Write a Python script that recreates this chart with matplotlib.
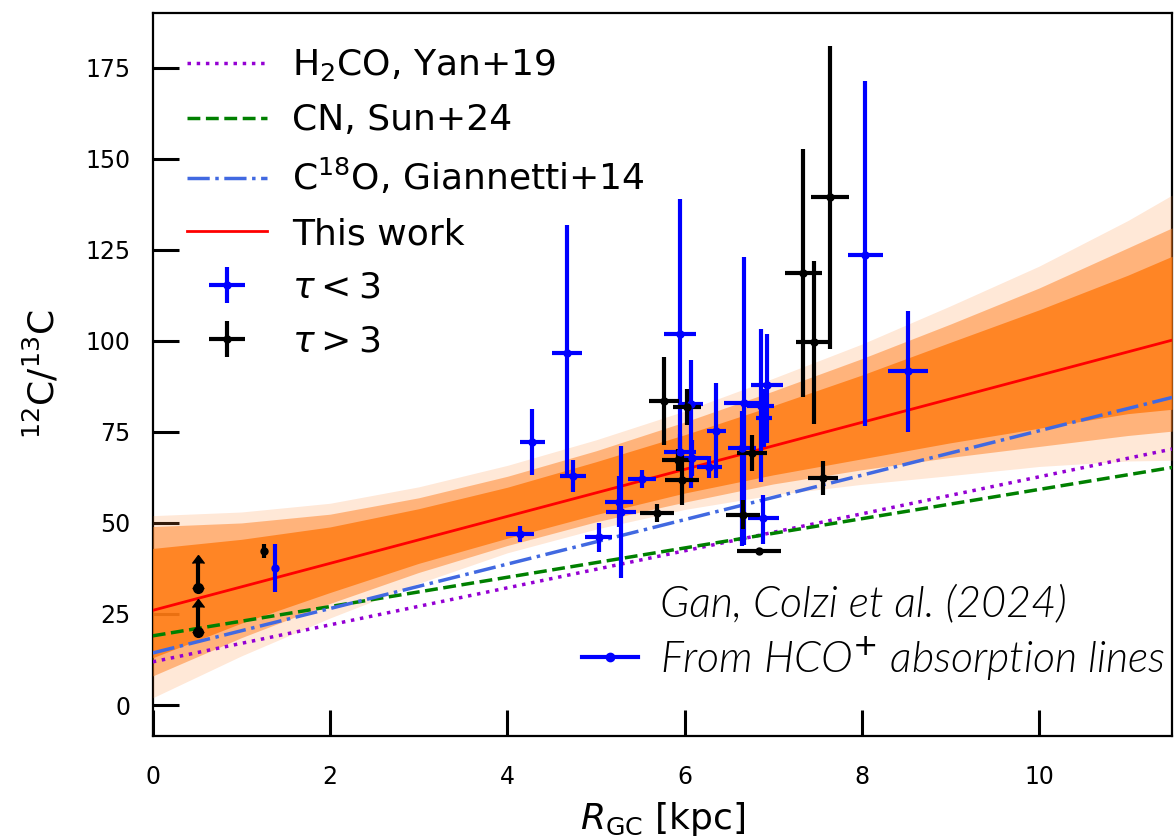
import numpy as np
import matplotlib.pyplot as plt
from matplotlib.lines import Line2D

# model lines: intercept, slope
fit_a, fit_b = 26.0, 6.45          # this work
yan_a, yan_b = 11.86, 5.08         # H2CO, Yan+19
sun_a, sun_b = 19.0, 4.02          # CN, Sun+24
gia_a, gia_b = 14.3, 6.1           # C18O, Giannetti+14

# spread of the posterior lines
band_x = [0, 1, 2, 3, 4, 5, 6, 7, 8, 9, 10, 11, 11.5]
faint_lo = [2, 13.5, 23.9, 33.4, 41.8, 48.3, 53.7, 57.7, 60.6, 63, 65.5, 67, 67.2]
faint_hi = [52, 53, 55.4, 59.9, 65.8, 72.8, 80.7, 89.7, 99.1, 109.6, 120.5, 133, 140]
mid_lo = [8, 18.5, 27.9, 36.4, 43.8, 50.3, 55.7, 60.7, 64.6, 68, 71, 74, 75.2]
mid_hi = [49, 50, 52.4, 56.9, 62.8, 69.8, 77.7, 86.2, 95.1, 104.6, 114.5, 125.5, 131]
core_lo = [13, 22.5, 30.9, 38.9, 45.8, 52.3, 58.2, 63.2, 67.6, 72, 76, 80, 81.2]
core_hi = [43, 45.5, 48.9, 53.9, 59.8, 66.8, 74.2, 82.2, 90.6, 99.6, 108.5, 118, 123.2]

# tau < 3
blue_x = [1.38, 4.14, 4.28, 4.67, 4.74, 5.03, 5.26, 5.28, 5.52, 5.95, 5.95,
          6.07, 6.08, 6.28, 6.36, 6.67, 6.65, 6.89, 6.86, 6.90, 6.93, 8.04, 8.52]
blue_y = [37.6, 47.0, 72.2, 96.7, 62.9, 46.1, 55.8, 53.0, 62.1, 102.0, 69.5,
          82.7, 67.9, 65.4, 75.3, 83.0, 70.6, 51.3, 82.2, 78.8, 87.9, 123.6, 91.7]
blue_xerr = [0, 0.16, 0.14, 0.17, 0.15, 0.15, 0.16, 0.17, 0.16, 0.18, 0.18,
             0.14, 0.18, 0.14, 0.11, 0.22, 0.16, 0.17, 0.15, 0.09, 0.18, 0.2, 0.23]
blue_ylo = [6.5, 2.2, 9, 34, 4.5, 4, 7, 18, 2.5, 37, 5,
            23, 5, 3, 13, 39, 27, 7, 21, 8, 16, 47, 16.7]
blue_yhi = [6.5, 2.2, 9, 35, 4.5, 4, 7, 18, 2.5, 37, 5,
            12, 5, 3, 13, 40, 10, 6.5, 21, 8, 14, 47.6, 16.5]

# tau > 3
black_x = [1.25, 5.69, 5.77, 5.93, 5.97, 6.03, 6.66, 6.76, 6.84, 7.34, 7.46, 7.64, 7.56]
black_y = [42.3, 52.7, 83.5, 67.3, 61.8, 81.9, 52.2, 69.2, 42.3, 118.6, 99.8, 139.5, 62.3]
black_xerr = [0, 0.19, 0.17, 0.18, 0.19, 0.16, 0.19, 0.17, 0.25, 0.21, 0.2, 0.21, 0.17]
black_ylo = [2.0, 2.5, 12, 3, 7, 5, 4, 5, 0.5, 34, 22.6, 41.7, 4.7]
black_yhi = [2.0, 2.5, 12, 3, 7, 5, 4, 5, 0.5, 34, 22.2, 41.5, 4.7]

# lower limits
lim_x = [0.51, 0.51]
lim_y = [32.1, 20.0]
lim_len = [7.0, 7.0]

fig = plt.figure(figsize=(11.75, 8.38), dpi=100)
ax = fig.add_axes([0.130, 0.1217, 0.8675, 0.8628])

ax.fill_between(band_x, faint_lo, faint_hi, color="#ff8c3a", alpha=0.2, lw=0, zorder=2.6)
ax.fill_between(band_x, mid_lo, mid_hi, color="#ff8021", alpha=0.5, lw=0, zorder=2.6)
ax.fill_between(band_x, core_lo, core_hi, color="#ff7a10", alpha=0.8, lw=0, zorder=2.6)

xx = np.array([0, 11.5])
ax.plot(xx, yan_a + yan_b * xx, ls=":", color="darkviolet", lw=2.5, label="H$_2$CO, Yan+19", zorder=3)
ax.plot(xx, sun_a + sun_b * xx, ls="--", color="green", lw=2.5, label="CN, Sun+24", zorder=3)
ax.plot(xx, gia_a + gia_b * xx, ls="-.", color="royalblue", lw=2.5, label="C$^{18}$O, Giannetti+14", zorder=3)
ax.plot(xx, fit_a + fit_b * xx, ls="-", color="red", lw=2, label="This work", zorder=3.5)

ax.errorbar(blue_x, blue_y, xerr=blue_xerr, yerr=[blue_ylo, blue_yhi], fmt="o", ms=5,
            color="blue", elinewidth=3, capsize=0, label=r"$\tau < 3$", zorder=4)
ax.errorbar(black_x, black_y, xerr=black_xerr, yerr=[black_ylo, black_yhi], fmt="o", ms=5,
            color="black", elinewidth=3, capsize=0, label=r"$\tau > 3$", zorder=4)
ax.errorbar(lim_x, lim_y, yerr=[np.zeros(len(lim_len)), lim_len], lolims=True, fmt="o", ms=7,
            color="black", elinewidth=3, capsize=4, zorder=4)

ax.set_xlim(0, 11.5)
ax.set_ylim(-8.5, 190)
ax.set_xticks([0, 2, 4, 6, 8, 10])
ax.set_yticks([0, 25, 50, 75, 100, 125, 150, 175])
ax.tick_params(direction="in", length=19, width=2.2, labelsize=17)
ax.tick_params(axis="x", pad=21)
ax.tick_params(axis="y", pad=16)
for s in ax.spines.values():
    s.set_linewidth(1.6)

ax.set_xlabel(r"$R_{\rm GC}$ [kpc]", fontsize=26, labelpad=8)
ax.set_ylabel(r"$^{12}$C/$^{13}$C", fontsize=26, labelpad=17)

leg = ax.legend(loc="upper left", fontsize=26, frameon=False, handlelength=2.2,
                labelspacing=0.55, handletextpad=0.7, borderaxespad=0.55)
ax.add_artist(leg)

h1 = Line2D([], [], color="none")
h2 = Line2D([], [], color="blue", marker="o", ms=6, lw=3)
ax.legend([h1, h2], ["Gan, Colzi et al. (2024)", "From HCO$^{+}$ absorption lines"],
          loc="lower right", bbox_to_anchor=(1.01, 0.05), borderaxespad=0, frameon=False,
          prop={"family": "Lato", "style": "italic", "weight": 300, "size": 31},
          handlelength=1.3, handletextpad=0.5, labelspacing=0.25)

plt.savefig("out.png")
